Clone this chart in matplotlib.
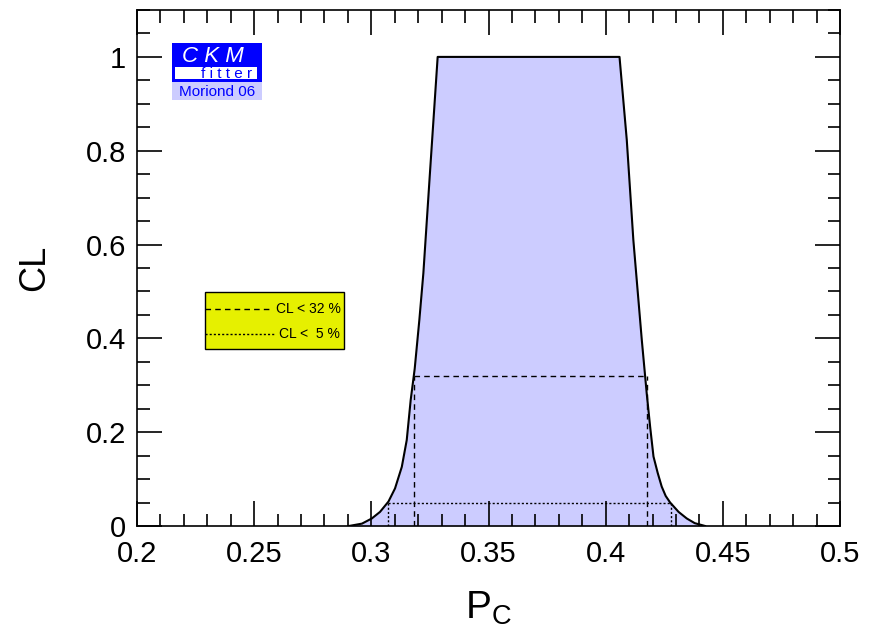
import matplotlib.pyplot as plt
from matplotlib.patches import Rectangle
from matplotlib.ticker import MultipleLocator

plt.rcParams['font.family'] = ['Liberation Sans', 'DejaVu Sans']
plt.rcParams['mathtext.fontset'] = 'custom'
plt.rcParams['mathtext.rm'] = 'Liberation Sans'

# CL curve
pc = [0.2905, 0.2960, 0.3002, 0.3037, 0.3073, 0.3101, 0.3130, 0.3151, 0.3168,
      0.3185, 0.3205, 0.3222, 0.3250, 0.3283,
      0.4059, 0.4090, 0.4118, 0.4154, 0.4175, 0.4190, 0.4204, 0.4222, 0.4239,
      0.4256, 0.4275, 0.4311, 0.4346, 0.4380, 0.4424]
cl = [0.0, 0.005, 0.016, 0.030, 0.052, 0.080, 0.126, 0.183, 0.269,
      0.335, 0.440, 0.539, 0.752, 1.0,
      1.0, 0.823, 0.610, 0.397, 0.283, 0.210, 0.148, 0.113, 0.084,
      0.064, 0.050, 0.030, 0.016, 0.006, 0.0]

# confidence level intervals
cl32_level = 0.32
cl32_range = [0.3182, 0.4175]
cl5_level = 0.05
cl5_range = [0.3071, 0.4278]

fig = plt.figure(figsize=(8.81, 6.29), dpi=100)
ax = fig.add_axes([0.1555, 0.1638, 0.798, 0.8203])

ax.fill_between(pc, cl, 0, color='#ccccff', lw=0)
ax.plot(pc, cl, color='black', lw=1.5)

# 32% (dashed)
ax.plot(cl32_range, [cl32_level, cl32_level], color='black', ls=(0, (4, 3)), lw=1)
for x in cl32_range:
    ax.plot([x, x], [0, cl32_level], color='black', ls=(0, (4, 3)), lw=1)
# 5% (dotted)
ax.plot(cl5_range, [cl5_level, cl5_level], color='black', ls=(0, (1.5, 1.5)), lw=1)
for x in cl5_range:
    ax.plot([x, x], [0, cl5_level], color='black', ls=(0, (1.5, 1.5)), lw=1)

ax.set_xlim(0.2, 0.5)
ax.set_ylim(0, 1.1)
ax.xaxis.set_minor_locator(MultipleLocator(0.01))
ax.yaxis.set_minor_locator(MultipleLocator(0.05))
ax.set_xticks([0.2, 0.25, 0.3, 0.35, 0.4, 0.45, 0.5])
ax.set_xticklabels(['0.2', '0.25', '0.3', '0.35', '0.4', '0.45', '0.5'])
ax.set_yticks([0, 0.2, 0.4, 0.6, 0.8, 1.0])
ax.set_yticklabels(['0', '0.2', '0.4', '0.6', '0.8', '1'])
ax.tick_params(which='both', direction='in', top=True, right=True, width=1.2)
ax.tick_params(which='major', length=18, labelsize=21)
ax.tick_params(which='minor', length=9)
ax.tick_params(axis='x', which='major', pad=10)
ax.tick_params(axis='y', which='major', pad=8)
for s in ax.spines.values():
    s.set_linewidth(1.2)

ax.set_ylabel('CL', fontsize=26, labelpad=24)
ax.set_xlabel(r'$\mathregular{P_C}$', fontsize=28, labelpad=16)

# CKMfitter logo
tr = fig.transFigure
W, H = 881.0, 629.0
def box(x0, y0, x1, y1, color):
    fig.patches.append(Rectangle((x0 / W, 1 - y1 / H), (x1 - x0) / W, (y1 - y0) / H,
                                 transform=tr, color=color, lw=0, zorder=5))
box(172, 43, 262, 82, '#0000ff')
box(175, 67, 257, 79, 'white')
box(172, 82, 262, 100, '#ccccff')
fig.text(213 / W, 1 - 56 / H, 'C K M', color='white', fontsize=16, style='italic',
         ha='center', va='center', zorder=6)
fig.text(227 / W, 1 - 73.5 / H, 'f i t t e r', color='#0000ff', fontsize=11,
         ha='center', va='center', zorder=6)
fig.text(217 / W, 1 - 91.5 / H, 'Moriond 06', color='#0000ff', fontsize=11,
         ha='center', va='center', zorder=6)

# legend box
box(205, 292, 344, 349, '#e6f000')
fig.patches.append(Rectangle((205 / W, 1 - 349 / H), 139 / W, 57 / H, transform=tr,
                             fill=False, ec='black', lw=1, zorder=6))
fig.add_artist(plt.Line2D([205 / W, 271 / W], [1 - 309 / H, 1 - 309 / H], transform=tr,
                          color='black', ls=(0, (4, 3)), lw=1, zorder=6))
fig.add_artist(plt.Line2D([205 / W, 274 / W], [1 - 334 / H, 1 - 334 / H], transform=tr,
                          color='black', ls=(0, (1.5, 1.5)), lw=1, zorder=6))
fig.text(276 / W, 1 - 309 / H, 'CL < 32 %', fontsize=10, va='center', zorder=7)
fig.text(279 / W, 1 - 334 / H, 'CL <  5 %', fontsize=10, va='center', zorder=7)

fig.savefig('out.png', dpi=100)
